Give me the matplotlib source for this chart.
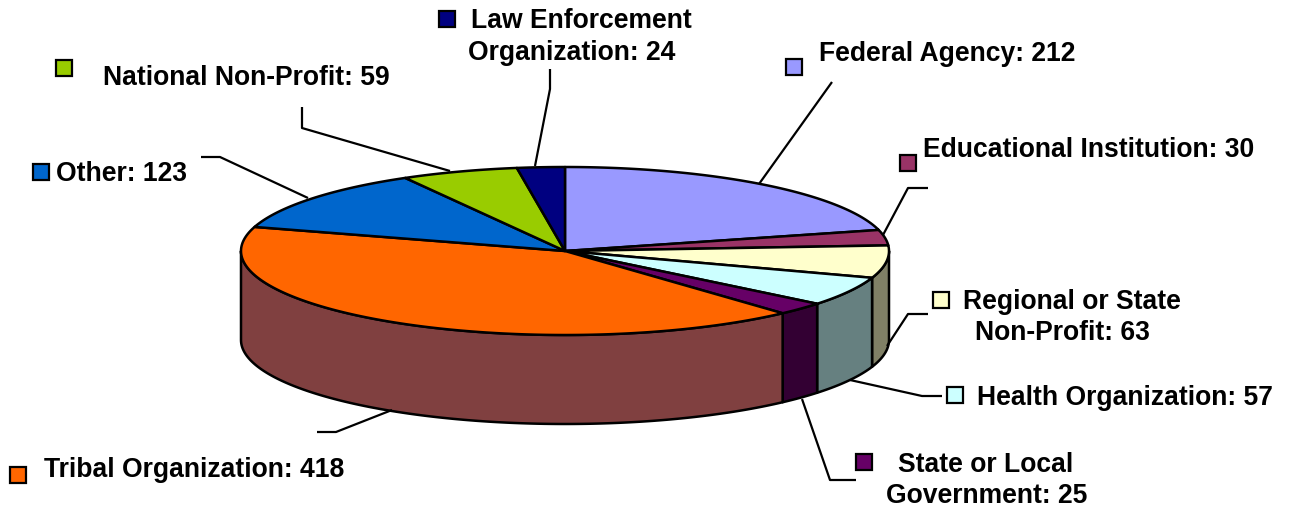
import numpy as np
import matplotlib
matplotlib.use('Agg')
import matplotlib.pyplot as plt
from matplotlib.patches import Rectangle

plt.rcParams['font.family'] = ['Liberation Sans', 'DejaVu Sans']

categories = ['Federal Agency', 'Educational Institution', 'Regional or State Non-Profit',
              'Health Organization', 'State or Local Government', 'Tribal Organization',
              'Other', 'National Non-Profit', 'Law Enforcement Organization']
values = [212, 30, 63, 57, 25, 418, 123, 59, 24]
top_colors = ['#9999FF', '#993366', '#FFFFCC', '#CCFFFF', '#660066', '#FF6600',
              '#0066CC', '#99CC00', '#000080']
side_colors = ['#666699', '#663344', '#808066', '#668080', '#330033', '#804040',
               '#003366', '#668000', '#000040']

cx, cy = 565, 251
rx, ry = 324, 84
depth = 89

fig = plt.figure(figsize=(12.89, 5.11), dpi=100)
ax = fig.add_axes([0, 0, 1, 1])
ax.set_xlim(0, 1289)
ax.set_ylim(511, 0)
ax.axis('off')


def rim(a, b):
    t = np.radians(np.linspace(a, b, 200))
    return cx + rx * np.sin(t), cy - ry * np.cos(t)


edges = np.concatenate([[0], np.cumsum(values)]) / sum(values) * 360

# side wall, only the front half shows
for i in range(len(values)):
    a, b = max(edges[i], 90), min(edges[i + 1], 270)
    if a >= b:
        continue
    x, y = rim(a, b)
    ax.fill(np.r_[x, x[::-1]], np.r_[y, y[::-1] + depth], fc=side_colors[i],
            ec='black', lw=1.8, joinstyle='round')

# top
for i in range(len(values)):
    x, y = rim(edges[i], edges[i + 1])
    ax.fill(np.r_[cx, x], np.r_[cy, y], fc=top_colors[i], ec='black', lw=1.8,
            joinstyle='round')

# leader lines
leaders = [
    [(832, 82), (759, 184)],
    [(928, 188), (908, 188), (883, 235)],
    [(928, 314), (908, 314), (887, 346)],
    [(942, 396), (922, 396), (850, 380)],
    [(856, 480), (830, 480), (802, 399)],
    [(317, 432), (336, 432), (392, 410)],
    [(201, 157), (220, 157), (308, 198)],
    [(302, 107), (302, 128), (450, 171)],
    [(550, 69), (550, 89), (535, 166)],
]
for pts in leaders:
    xs, ys = zip(*pts)
    ax.plot(xs, ys, color='black', lw=1.6, solid_capstyle='butt')

labels = [
    (947, 54, 'Federal Agency: 212'),
    (1089, 150, 'Educational Institution: 30'),
    (1072, 302, 'Regional or State'),
    (1062, 333, 'Non-Profit: 63'),
    (1125, 398, 'Health Organization: 57'),
    (986, 465, 'State or Local'),
    (987, 496, 'Government: 25'),
    (194, 470, 'Tribal Organization: 418'),
    (122, 174, 'Other: 123'),
    (246, 78, 'National Non-Profit: 59'),
    (581, 21, 'Law Enforcement'),
    (572, 53, 'Organization: 24'),
]
for x, y, s in labels:
    ax.text(x, y, s, ha='center', va='center', fontsize=19.1, fontweight='bold', color='black')

keys = [(786, 59), (900, 155), (933, 292), (947, 387), (856, 454), (10, 467), (33, 164), (56, 60), (439, 11)]
for (x, y), c in zip(keys, top_colors):
    ax.add_patch(Rectangle((x, y), 16, 16, fc=c, ec='black', lw=1.6))

fig.savefig('out.png', dpi=100)
